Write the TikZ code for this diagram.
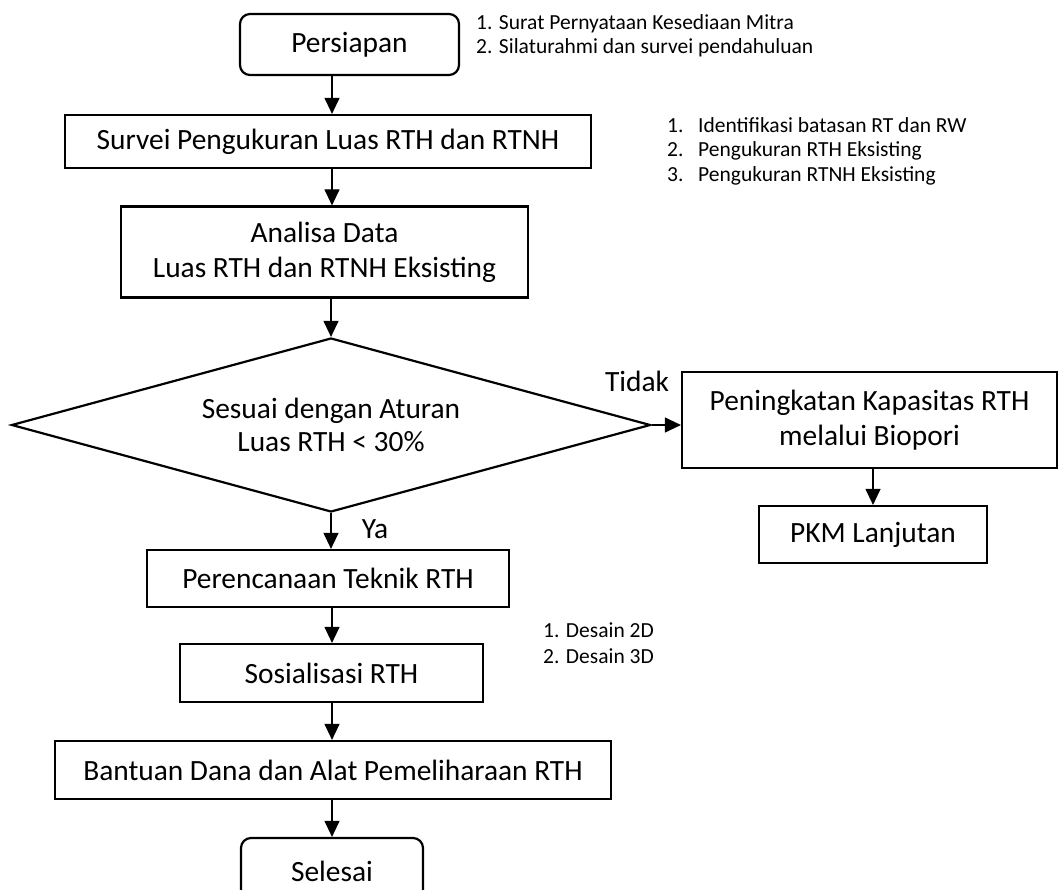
\documentclass[tikz,border=0pt]{standalone}
\usepackage{fontspec}
\setmainfont{Carlito}
\usetikzlibrary{arrows.meta,shapes.geometric,calc}
\begin{document}
\begin{tikzpicture}[x=1pt,y=-1pt,
  box/.style={draw,line width=2.2pt,inner sep=0pt,align=center,font=\fontsize{29.4}{35}\selectfont},
  rbox/.style={box,rounded corners=10pt},
  arr/.style={line width=1.2pt,-{Triangle[length=16pt,width=15pt]}},
  note/.style={font=\fontsize{21.5}{24}\selectfont,anchor=base west,inner sep=0pt},
  lab/.style={font=\fontsize{29.4}{35}\selectfont,inner sep=0pt}]
\clip (0,0) rectangle (1059,890);
\fill[white] (0,0) rectangle (1059,890);
\coordinate (col) at (332,0);
% nodes
\node[rbox,minimum width=219pt,minimum height=61pt] (prep) at (349.5,44.5) {Persiapan};
\node[box,minimum width=526pt,minimum height=53pt] (surv) at (328,141.5) {Survei Pengukuran Luas RTH dan RTNH};
\node[box,minimum width=407pt,minimum height=91pt] (anal) at (324.5,252) {Analisa Data\\Luas RTH dan RTNH Eksisting};
\node[diamond,draw,line width=2.2pt,inner sep=0pt,aspect=3.67,minimum width=639pt,minimum height=174pt,align=center,font=\fontsize{29.4}{33}\selectfont] (dec) at (331,425) {Sesuai dengan Aturan\\Luas RTH < 30\%};
\node[box,minimum width=375pt,minimum height=96pt] (tb) at (869.5,420) {Peningkatan Kapasitas RTH\\melalui Biopori};
\node[box,minimum width=228pt,minimum height=57pt] (pkm) at (873,534.5) {PKM Lanjutan};
\node[box,minimum width=362pt,minimum height=57pt] (plan) at (328,578.5) {Perencanaan Teknik RTH};
\node[box,minimum width=303pt,minimum height=58pt] (sos) at (331.5,673) {Sosialisasi RTH};
\node[box,minimum width=556pt,minimum height=58pt] (bant) at (333,770) {Bantuan Dana dan Alat Pemeliharaan RTH};
\node[rbox,minimum width=182pt,minimum height=66pt] (sel) at (332,871) {Selesai};
% labels
\node[lab] (tidak) at (637,381) {Tidak};
\node[lab,anchor=base] (ya) at (375,538) {Ya};
% notes
\node[note] (n1a) at (476,30) {1. Surat Pernyataan Kesediaan Mitra};
\node[note] (n1b) at (476,54) {2. Silaturahmi dan survei pendahuluan};
\node[note] (n2a) at (667,133) {1.};
\node[note] (n2b) at (667,157) {2.};
\node[note] (n2c) at (667,182) {3.};
\node[note] (n2at) at (698,133) {Identifikasi batasan RT dan RW};
\node[note] (n2bt) at (698,157) {Pengukuran RTH Eksisting};
\node[note] (n2ct) at (698,182) {Pengukuran RTNH Eksisting};
\node[note] (n3a) at (543,637) {1. Desain 2D};
\node[note] (n3b) at (543,663) {2. Desain 3D};
% connectors
\draw[arr] (col |- prep.south) -- (col |- surv.north);
\draw[arr] (col |- surv.south) -- (col |- anal.north);
\draw[arr] (anal.south -| dec.north) -- (dec.north);
\draw[arr] (dec.east) -- (dec.east -| tb.west);
\draw[arr] (pkm.north |- tb.south) -- (pkm.north);
\draw[arr] (dec.south) -- (dec.south |- plan.north);
\draw[arr] (col |- plan.south) -- (col |- sos.north);
\draw[arr] (col |- sos.south) -- (col |- bant.north);
\draw[arr] (col |- bant.south) -- (col |- sel.north);
\end{tikzpicture}
\end{document}
